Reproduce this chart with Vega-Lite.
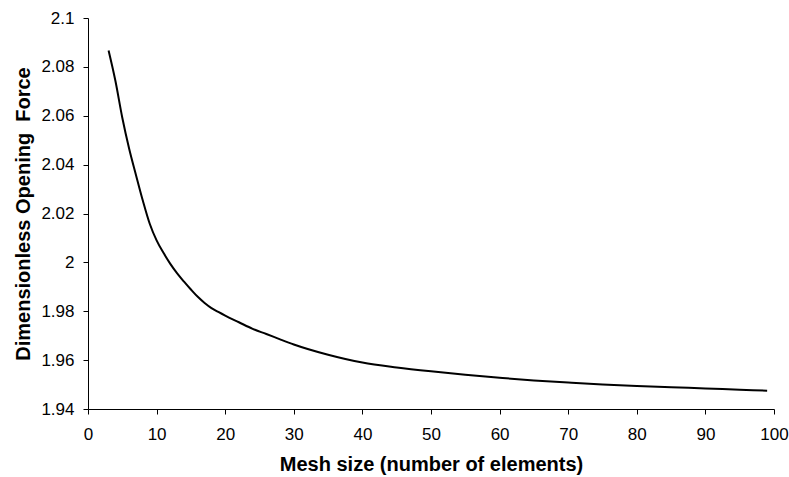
{
  "$schema": "https://vega.github.io/schema/vega-lite/v6.json",
  "autosize": {"type": "none"},
  "width": 686,
  "height": 391,
  "padding": {"left": 88, "top": 18, "right": 15, "bottom": 68},
  "background": "white",
  "config": {
    "view": {"stroke": null},
    "font": "Liberation Sans",
    "axis": {
      "grid": false,
      "domainColor": "black",
      "tickColor": "black",
      "tickSize": 5,
      "labelColor": "black",
      "titleColor": "black",
      "labelFont": "Liberation Sans",
      "titleFont": "Liberation Sans",
      "labelFontSize": 17,
      "titleFontSize": 20,
      "titleFontWeight": "bold"
    }
  },
  "data": {
    "values": [
      {"n": 3, "f": 2.0867},
      {"n": 4, "f": 2.0742},
      {"n": 5, "f": 2.0592},
      {"n": 6, "f": 2.0465},
      {"n": 7, "f": 2.0357},
      {"n": 8, "f": 2.0252},
      {"n": 9, "f": 2.0158},
      {"n": 10, "f": 2.009},
      {"n": 11, "f": 2.0039},
      {"n": 12, "f": 1.9994},
      {"n": 13, "f": 1.9955},
      {"n": 14, "f": 1.9921},
      {"n": 15, "f": 1.9889},
      {"n": 16, "f": 1.9859},
      {"n": 17, "f": 1.9834},
      {"n": 18, "f": 1.9813},
      {"n": 19, "f": 1.9797},
      {"n": 20, "f": 1.9782},
      {"n": 22, "f": 1.9755},
      {"n": 24, "f": 1.9728},
      {"n": 26, "f": 1.9707},
      {"n": 28, "f": 1.9685},
      {"n": 30, "f": 1.9664},
      {"n": 35, "f": 1.9622},
      {"n": 40, "f": 1.959},
      {"n": 45, "f": 1.957},
      {"n": 50, "f": 1.9554},
      {"n": 55, "f": 1.954},
      {"n": 60, "f": 1.9528},
      {"n": 65, "f": 1.9517},
      {"n": 70, "f": 1.9508},
      {"n": 75, "f": 1.95},
      {"n": 80, "f": 1.9494},
      {"n": 85, "f": 1.9489},
      {"n": 90, "f": 1.9484},
      {"n": 95, "f": 1.9479},
      {"n": 99, "f": 1.9475}
    ]
  },
  "mark": {"type": "line", "color": "black", "strokeWidth": 2, "interpolate": "monotone"},
  "encoding": {
    "x": {
      "field": "n", "type": "quantitative",
      "title": "Mesh size (number of elements)",
      "scale": {"domain": [0, 100], "nice": false, "zero": false},
      "axis": {"values": [0,10,20,30,40,50,60,70,80,90,100], "labelPadding": 12, "titlePadding": 12, "labelFlush": false}
    },
    "y": {
      "field": "f", "type": "quantitative",
      "title": "Dimensionless Opening\u00a0 Force",
      "scale": {"domain": [1.94, 2.1], "nice": false, "zero": false},
      "axis": {"values": [1.94,1.96,1.98,2.0,2.02,2.04,2.06,2.08,2.1], "labelExpr": "datum.value == 2 ? '2' : datum.value == 2.1 ? '2.1' : format(datum.value, '.2f')", "labelPadding": 9, "titleX": -55, "labelFlush": false}
    }
  }
}
